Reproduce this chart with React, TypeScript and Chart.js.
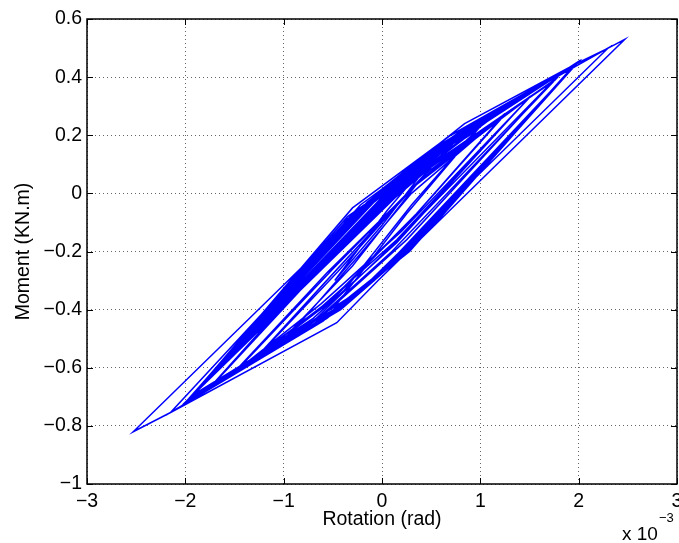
import React, { useEffect, useRef } from "react";
import { Chart, registerables } from "chart.js";

Chart.register(...registerables);

// Rotation (x 10^-3 rad)
const rotation: number[] = [
  0.0, 0.5, 0.05, -0.48, 0.0, 0.52,
  0.96, 0.3, -0.4, -0.96, -0.3, 0.35, 0.95, 0.25, -0.48, -0.95, -0.25, 0.3,
  1.25, 0.35, -0.5, -1.25, -0.45, 0.45, 1.26, 0.3, -0.55, -1.24, -0.4, 0.5,
  1.5, 0.2, -0.62, -1.48, -0.5, 0.4, 1.5, 0.15, -0.68, -1.49, -0.55, 0.35, 1.51,
  0.15, -0.7, -1.73, -0.4, 0.45, 1.75, 0.25, -0.6, -1.74, -0.3, 0.6, 1.76,
  0.1, -0.65, -1.73, -0.35, 0.55, 1.75,
  0.1, -0.7, -1.93,
  -0.3, 0.7, 1.95, 0.2, -0.55, -1.95,
  -0.22, 0.78, 1.97, 0.28, -0.5, -1.96,
  -0.15, 0.6, 1.98, 0.12, -0.62, -1.97,
  -0.05, 0.85, 1.99, 0.35, -0.45, -1.98,
  0.05, 0.5, 1.98, 0.05, -0.7, -1.98,
  -0.35, 0.4, 1.99, 0.4, -0.35, -1.97,
  0.15, 0.9, 1.99, -0.05, -0.8, -1.98,
  -0.4, 0.3, 1.98, 0.5, -0.25, -1.98,
  0.25, 1.1, 1.99, -0.12, -0.9, -1.98,
  -0.1, 0.55, 1.99, 0.22, -0.6, -1.98,
  -0.25, 0.65, 1.99, 0.15, -0.4, -1.98,
  -0.28, 0.62, 1.98, 0.18, -0.58, -1.97,
  -0.18, 0.72, 1.99, 0.08, -0.68, -1.98,
  0.1, 0.95, 1.99, 0.25, -0.52, -1.98,
  -0.32, 0.45, 1.99, 0.02, -0.75, -1.98,
  0.2, 1.0, 1.99, 0.32, -0.48, -1.98,
  -0.08, 0.68, 1.99, 0.1, -0.62, -1.98,
  0.3, 1.05, 1.99, -0.08, -0.85, -1.98,
  -0.12, 0.58, 1.99, 0.18, -0.56, -1.98,
  0.38, 1.15, 1.99, 0.0, -0.72, -1.98,
  -0.02, 0.8, 1.99, 0.26, -0.42, -1.98,
  0.45, 1.2, 1.99, -0.15, -0.95, -1.98,
  -0.2, 0.7, 1.99, 0.12, -0.66, -1.98,
  0.0, 0.75, 1.99, 0.3, -0.65, -2.15,
  -0.25, 0.8, 2.3, -0.15, -0.6, -2.15, -2.53,
  0.0, 0.84, 1.98, 2.3, 2.47, -0.04, -0.46, -2.15,
];

// Moment (KN.m)
const moment: number[] = [
  0.0, 0.12, -0.06, -0.3, -0.11, 0.12,
  0.215, -0.04, -0.34, -0.485, -0.25, 0.03, 0.21, -0.07, -0.39, -0.49, -0.22, 0.0,
  0.275, -0.07, -0.36, -0.555, -0.27, 0.07, 0.275, -0.09, -0.38, -0.55, -0.24, 0.09,
  0.33, -0.13, -0.38, -0.61, -0.26, 0.05, 0.33, -0.16, -0.41, -0.61, -0.27, 0.03, 0.335,
  -0.17, -0.43, -0.66, -0.16, 0.08, 0.39, -0.16, -0.42, -0.665, -0.14, 0.12, 0.39,
  -0.2, -0.43, -0.66, -0.15, 0.11, 0.39,
  -0.18, -0.44, -0.695,
  -0.05, 0.2, 0.44, -0.22, -0.42, -0.7,
  -0.04, 0.21, 0.445, -0.2, -0.41, -0.705,
  -0.03, 0.17, 0.447, -0.24, -0.44, -0.708,
  -0.01, 0.22, 0.45, -0.17, -0.4, -0.712,
  0.0, 0.14, 0.448, -0.26, -0.46, -0.713,
  -0.08, 0.1, 0.45, -0.15, -0.37, -0.71,
  0.02, 0.225, 0.45, -0.29, -0.48, -0.713,
  -0.1, 0.08, 0.45, -0.12, -0.34, -0.712,
  0.04, 0.26, 0.45, -0.31, -0.5, -0.713,
  -0.03, 0.15, 0.45, -0.21, -0.43, -0.713,
  -0.06, 0.18, 0.45, -0.23, -0.39, -0.713,
  -0.07, 0.17, 0.448, -0.22, -0.43, -0.71,
  -0.05, 0.195, 0.45, -0.25, -0.45, -0.713,
  0.01, 0.235, 0.45, -0.2, -0.42, -0.713,
  -0.09, 0.12, 0.45, -0.27, -0.47, -0.713,
  0.03, 0.245, 0.45, -0.18, -0.41, -0.713,
  -0.03, 0.18, 0.45, -0.245, -0.44, -0.713,
  0.05, 0.25, 0.45, -0.3, -0.49, -0.713,
  -0.04, 0.16, 0.45, -0.22, -0.43, -0.713,
  0.07, 0.27, 0.45, -0.27, -0.46, -0.713,
  -0.02, 0.21, 0.45, -0.2, -0.4, -0.713,
  0.09, 0.28, 0.45, -0.32, -0.51, -0.713,
  -0.05, 0.19, 0.45, -0.235, -0.445, -0.713,
  -0.02, 0.19, 0.45, -0.19, -0.45, -0.754,
  -0.06, 0.215, 0.5, -0.31, -0.44, -0.754, -0.82,
  0.015, 0.24, 0.447, 0.5, 0.53, -0.3, -0.445, -0.754,
];

const xTicks: number[] = [-3, -2, -1, 0, 1, 2, 3];
const yTicks: number[] = [0.6, 0.4, 0.2, 0, -0.2, -0.4, -0.6, -0.8, -1];
const xTitle = "Rotation (rad)";
const yTitle = "Moment (KN.m)";
const xMultiplierBase = "x 10";
const xMultiplierExp = "\u22123";

const FONT = "'Liberation Sans', Arial, Helvetica, sans-serif";

const fmt = (v: number) => {
  const r = Math.round(v * 10) / 10;
  return r < 0 ? "\u2212" + String(Math.abs(r)) : String(r);
};

const framePlugin = {
  id: "matlabFrame",
  afterDraw(chart: any) {
    const { ctx, chartArea, scales } = chart;
    const { left, right, top, bottom } = chartArea;
    ctx.save();
    ctx.strokeStyle = "#000";
    ctx.lineWidth = 1;
    const tl = 6;
    ctx.beginPath();
    for (const v of xTicks) {
      const px = Math.round(scales.x.getPixelForValue(v)) + 0.5;
      ctx.moveTo(px, bottom);
      ctx.lineTo(px, bottom - tl);
      ctx.moveTo(px, top);
      ctx.lineTo(px, top + tl);
    }
    for (const v of yTicks) {
      const py = Math.round(scales.y.getPixelForValue(v)) + 0.5;
      ctx.moveTo(left, py);
      ctx.lineTo(left + tl, py);
      ctx.moveTo(right, py);
      ctx.lineTo(right - tl, py);
    }
    ctx.stroke();
    ctx.lineWidth = 1.5;
    ctx.strokeRect(left, top, right - left, bottom - top);
    ctx.fillStyle = "#000";
    ctx.textAlign = "left";
    ctx.textBaseline = "alphabetic";
    ctx.font = `19px ${FONT}`;
    ctx.fillText(xMultiplierBase, 622, 540);
    const w = ctx.measureText(xMultiplierBase).width;
    ctx.font = `13px ${FONT}`;
    ctx.fillText(xMultiplierExp, 622 + w + 1, 522);
    ctx.restore();
  },
};

export default function App() {
  const ref = useRef<HTMLCanvasElement | null>(null);

  useEffect(() => {
    if (!ref.current) return;
    const points = rotation.map((x, i) => ({ x, y: moment[i] }));
    const tickFont = { family: FONT, size: 19.5 };
    const chart = new Chart(ref.current, {
      type: "scatter",
      data: {
        datasets: [
          {
            data: points,
            showLine: true,
            borderColor: "#0000ff",
            backgroundColor: "#0000ff",
            borderWidth: 1.5,
            pointRadius: 0,
            pointHoverRadius: 0,
            fill: false,
            tension: 0,
          },
        ],
      },
      options: {
        animation: false,
        responsive: false,
        devicePixelRatio: 1,
        events: [],
        layout: { padding: { left: 0, right: 2, top: 19, bottom: 0 } },
        plugins: { legend: { display: false }, tooltip: { enabled: false } },
        scales: {
          x: {
            type: "linear",
            min: -3,
            max: 3,
            afterBuildTicks: (s: any) => {
              s.ticks = xTicks.map((v) => ({ value: v }));
            },
            afterFit: (s: any) => {
              s.height = 59;
              s.paddingLeft = 0;
              s.paddingRight = 0;
            },
            ticks: {
              callback: (v: any) => fmt(Number(v)),
              font: tickFont,
              color: "#000",
              padding: 6,
              maxRotation: 0,
              autoSkip: false,
            },
            grid: { color: "rgba(0,0,0,0.6)", lineWidth: 1, drawTicks: false },
            border: { display: false, dash: [1, 3] },
            title: {
              display: true,
              text: xTitle,
              color: "#000",
              font: tickFont,
              padding: { top: 0, bottom: 12 },
            },
          },
          y: {
            type: "linear",
            min: -1,
            max: 0.6,
            afterBuildTicks: (s: any) => {
              s.ticks = yTicks.map((v) => ({ value: v }));
            },
            afterFit: (s: any) => {
              s.width = 87;
              s.paddingTop = 0;
              s.paddingBottom = 0;
            },
            ticks: {
              callback: (v: any) => fmt(Number(v)),
              font: tickFont,
              color: "#000",
              padding: 5,
              autoSkip: false,
            },
            grid: { color: "rgba(0,0,0,0.6)", lineWidth: 1, drawTicks: false },
            border: { display: false, dash: [1, 3] },
            title: {
              display: true,
              text: yTitle,
              color: "#000",
              font: tickFont,
              padding: { top: 12, bottom: 0 },
            },
          },
        },
      },
      plugins: [framePlugin],
    } as any);
    return () => chart.destroy();
  }, []);

  return (
    <div style={{ position: "fixed", left: 0, top: 0, width: 679, height: 543, background: "#fff" }}>
      <canvas ref={ref} width={679} height={543} style={{ width: 679, height: 543, display: "block" }} />
    </div>
  );
}
